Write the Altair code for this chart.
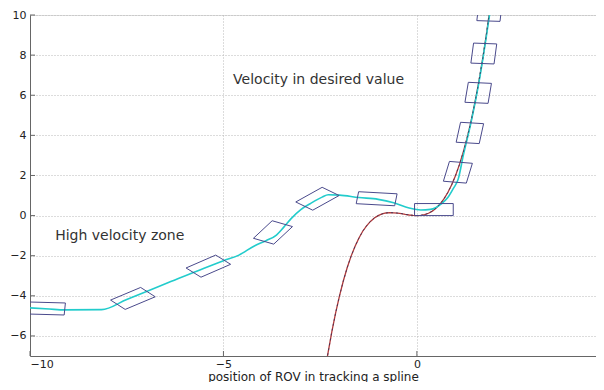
import altair as alt
import numpy as np
import pandas as pd

# Desired (reference) velocity curve
ref_x = [-2.35, -2.3, -2.2, -2.1, -2.0, -1.9, -1.8, -1.7, -1.6, -1.5, -1.4, -1.3, -1.2, -1.1, -1.0,
         -0.9, -0.8, -0.7, -0.6, -0.5, -0.4, -0.3, -0.2, -0.1, 0.0, 0.1, 0.2, 0.3, 0.4, 0.5,
         0.6, 0.7, 0.8, 0.9, 1.0, 1.1, 1.2, 1.3, 1.4, 1.5, 1.6, 1.7, 1.8, 1.9]
ref_y = [-7.45, -6.88, -5.81, -4.85, -4.0, -3.25, -2.59, -2.02, -1.54, -1.13, -0.78, -0.51, -0.29, -0.12, 0.0,
         0.08, 0.13, 0.15, 0.14, 0.125, 0.10, 0.06, 0.03, 0.01, 0.0, 0.011, 0.048, 0.117, 0.224, 0.375,
         0.576, 0.833, 1.152, 1.539, 2.0, 2.54, 3.17, 3.89, 4.70, 5.63, 6.66, 7.80, 9.07, 10.47]

# Actual ROV velocity (cyan)
rov_x = [-10.0, -9.5, -9.1, -8.15, -7.5, -6.5, -5.5, -5.0, -4.6, -4.19, -3.9, -3.63, -3.45, -3.25, -3.0,
         -2.76, -2.45, -2.29, -2.0, -1.5, -1.0, -0.6, -0.2, 0.1, 0.35, 0.64, 0.8, 0.94, 1.07, 1.2, 1.4,
         1.6, 1.8, 1.9]
rov_y = [-4.6, -4.66, -4.7, -4.69, -4.18, -3.4, -2.62, -2.25, -1.97, -1.5, -1.25, -0.97, -0.6, -0.15, 0.3,
         0.59, 0.92, 1.04, 1.02, 0.9, 0.81, 0.64, 0.38, 0.28, 0.31, 0.6, 0.9, 1.34, 1.83, 3.0, 4.65,
         6.6, 9.0, 10.3]

# ROV body outlines: centre and heading (deg, data space)
body_cx = [-9.6, -7.34, -5.39, -3.72, -2.57, -1.04, 0.44, 1.06, 1.37, 1.585, 1.73, 1.88]
body_cy = [-4.63, -4.13, -2.52, -0.84, 0.84, 0.84, 0.30, 2.16, 4.12, 6.12, 8.08, 10.2]
body_heading = [-3, 39, 40, 61, 47, -6, 0, 81, 83.5, 85, 86, 86.5]
BODY_LEN = 1.0
BODY_WID = 0.6

x_ticks = [-10, -5, 0]
y_ticks = [-6, -4, -2, 0, 2, 4, 6, 8, 10]

notes_text = ["Velocity in desired value", "High velocity zone"]
notes_x = [-4.75, -9.35]
notes_y = [6.78, -1.04]

X_DOM = [-10, 4.63]
Y_DOM = [-7, 10]
W, H = 566, 341

ref_df = pd.DataFrame({"x": ref_x, "y": ref_y})
rov_df = pd.DataFrame({"x": rov_x, "y": rov_y})

rows = []
corners = [(-0.5, -0.5), (0.5, -0.5), (0.5, 0.5), (-0.5, 0.5), (-0.5, -0.5)]
for i, (cx, cy, hd) in enumerate(zip(body_cx, body_cy, body_heading)):
    t = np.deg2rad(hd)
    for k, (a, b) in enumerate(corners):
        u, v = a * BODY_LEN, b * BODY_WID
        rows.append({"id": i, "k": k,
                     "x": cx + u * np.cos(t) - v * np.sin(t),
                     "y": cy + u * np.sin(t) + v * np.cos(t)})
body_df = pd.DataFrame(rows)

xs = alt.Scale(domain=X_DOM, nice=False, zero=False)
ys = alt.Scale(domain=Y_DOM, nice=False, zero=False)

FONT = "DejaVu Sans"
x_axis = alt.Axis(values=x_ticks, grid=True, gridDash=[1, 2], gridColor="#b8b8b8", gridWidth=1,
                  ticks=False, domainColor="#666666", labelFont=FONT, labelFontSize=11,
                  labelColor="#222222", labelPadding=2, title="position of ROV in  tracking a spline",
                  titleFont=FONT, titleFontSize=12, titleFontWeight="normal", titleColor="#222222",
                  titleBaseline="alphabetic", titleY=24)
y_axis = alt.Axis(values=y_ticks, grid=True, gridDash=[1, 2], gridColor="#b8b8b8", gridWidth=1,
                  ticks=False, domainColor="#666666", labelFont=FONT, labelFontSize=11,
                  labelColor="#222222", labelPadding=4, title=None)

base_ref = alt.Chart(ref_df).mark_line(color="#b33a3a", strokeWidth=1.3, clip=True).encode(
    x=alt.X("x:Q", scale=xs, axis=x_axis), y=alt.Y("y:Q", scale=ys, axis=y_axis))

rov = alt.Chart(rov_df).mark_line(color="#22cccc", strokeWidth=1.6, clip=True,
                                  interpolate="monotone").encode(
    x=alt.X("x:Q", scale=xs), y=alt.Y("y:Q", scale=ys))

ref_dash = alt.Chart(ref_df).mark_line(color="#30305a", strokeWidth=1, strokeDash=[2, 3],
                                       opacity=0.8, clip=True).encode(
    x=alt.X("x:Q", scale=xs), y=alt.Y("y:Q", scale=ys))

bodies = alt.Chart(body_df).mark_line(color="#4a4a8c", strokeWidth=1, clip=True).encode(
    x=alt.X("x:Q", scale=xs), y=alt.Y("y:Q", scale=ys), detail="id:N", order="k:Q")

notes = alt.Chart(pd.DataFrame({"t": notes_text, "x": notes_x, "y": notes_y})).mark_text(
    align="left", baseline="middle", font=FONT, fontSize=14, color="#333333").encode(
    x=alt.X("x:Q", scale=xs), y=alt.Y("y:Q", scale=ys), text="t:N")

ytk = alt.Chart(pd.DataFrame({"v": y_ticks})).mark_rule(color="#666666").encode(
    y=alt.Y("v:Q", scale=ys), x=alt.value(0), x2=alt.value(5))
xtk = alt.Chart(pd.DataFrame({"v": x_ticks})).mark_rule(color="#666666").encode(
    x=alt.X("v:Q", scale=xs), y=alt.value(H), y2=alt.value(H - 5))

chart = alt.layer(base_ref, rov, ref_dash, bodies, notes, ytk, xtk).properties(
    width=W, height=H,
    autosize=alt.AutoSizeParams(type="none"),
    padding={"left": 22, "top": 7, "right": 0, "bottom": 26},
).configure_view(stroke=None).configure(background="white")

chart.save("out.html", embed_options={"renderer": "svg", "actions": False})
